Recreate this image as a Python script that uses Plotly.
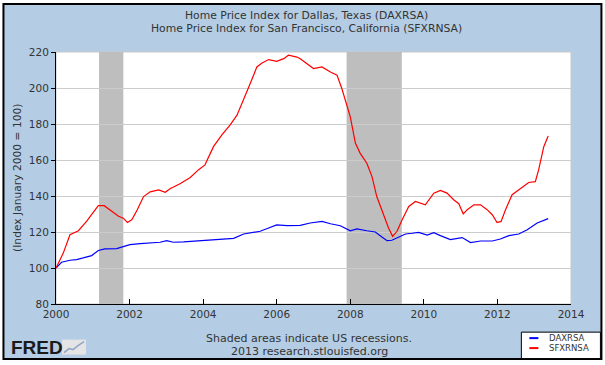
import plotly.graph_objects as go

# ---------------- data ----------------
sf_years = [2000.00, 2000.20, 2000.38, 2000.61, 2000.83, 2001.02, 2001.15, 2001.31, 2001.56, 2001.70,
            2001.83, 2001.94, 2002.06, 2002.21, 2002.38, 2002.56, 2002.79, 2002.97, 2003.10, 2003.37,
            2003.65, 2003.87, 2004.05, 2004.28, 2004.51, 2004.73, 2004.92, 2005.10, 2005.28, 2005.46,
            2005.60, 2005.78, 2006.00, 2006.19, 2006.32, 2006.55, 2006.64, 2007.00, 2007.23, 2007.46,
            2007.64, 2007.77, 2007.89, 2008.00, 2008.14, 2008.27, 2008.45, 2008.59, 2008.72, 2008.91,
            2009.04, 2009.15, 2009.27, 2009.41, 2009.59, 2009.77, 2010.04, 2010.27, 2010.45, 2010.63,
            2010.81, 2010.95, 2011.07, 2011.18, 2011.36, 2011.54, 2011.72, 2011.86, 2011.99, 2012.10,
            2012.22, 2012.40, 2012.58, 2012.72, 2012.85, 2013.03, 2013.12, 2013.26, 2013.38]
sf_values = [100.0, 108.4, 118.5, 120.7, 125.9, 131.4, 134.6, 134.6, 130.9, 128.7,
             127.7, 125.3, 126.8, 132.4, 139.7, 142.3, 143.4, 142.1, 144.0, 146.8,
             150.3, 154.5, 157.3, 167.4, 173.9, 179.4, 184.9, 193.2, 202.5, 211.7,
             213.9, 215.8, 214.8, 216.3, 218.2, 217.2, 216.3, 210.8, 211.7, 208.9,
             207.1, 199.7, 191.4, 184.0, 169.3, 163.7, 158.2, 150.8, 139.7, 129.6,
             122.2, 117.6, 120.4, 126.8, 134.2, 137.0, 135.1, 141.6, 143.1, 141.6,
             137.9, 135.7, 130.1, 132.4, 135.1, 135.1, 132.4, 129.6, 125.3, 125.9,
             132.4, 140.7, 143.4, 145.3, 147.5, 148.0, 154.5, 167.4, 173.3]

dal_years = [2000.00, 2000.15, 2000.38, 2000.56, 2000.74, 2000.97, 2001.15, 2001.33, 2001.65, 2001.83,
             2002.01, 2002.29, 2002.56, 2002.83, 2003.01, 2003.19, 2003.47, 2003.83, 2004.10, 2004.46,
             2004.83, 2005.10, 2005.37, 2005.55, 2005.78, 2006.00, 2006.28, 2006.64, 2006.91, 2007.23,
             2007.46, 2007.73, 2008.00, 2008.18, 2008.45, 2008.68, 2008.86, 2009.00, 2009.13, 2009.31,
             2009.50, 2009.68, 2009.86, 2010.09, 2010.27, 2010.45, 2010.72, 2011.04, 2011.27, 2011.54,
             2011.86, 2012.08, 2012.31, 2012.58, 2012.81, 2013.08, 2013.38]
dal_values = [100.0, 103.2, 104.3, 104.7, 105.6, 106.9, 109.7, 110.6, 110.8, 111.7,
              113.0, 113.5, 113.9, 114.3, 115.2, 114.3, 114.5, 115.0, 115.2, 116.1,
              116.5, 118.9, 119.8, 120.4, 122.2, 123.9, 123.5, 123.7, 125.0, 125.9,
              124.6, 123.5, 120.7, 121.7, 120.7, 120.0, 117.2, 115.2, 115.4, 117.2,
              118.9, 119.3, 119.8, 118.3, 119.6, 118.0, 115.8, 116.9, 114.1, 115.0,
              115.0, 116.1, 118.0, 118.9, 121.3, 125.0, 127.4]

recession_starts = [2001.17, 2007.90]
recession_ends = [2001.83, 2009.40]

x_ticks = [2000, 2002, 2004, 2006, 2008, 2010, 2012, 2014]
y_ticks = [80, 100, 120, 140, 160, 180, 200, 220]

series_names = ["DAXRSA", "SFXRNSA"]
series_colors = ["#0000FF", "#FF0000"]

title_lines = ["Home Price Index for Dallas, Texas (DAXRSA)",
               "Home Price Index for San Francisco, California (SFXRNSA)"]
footer_lines = ["Shaded areas indicate US recessions.", "2013 research.stlouisfed.org"]

# ---------------- layout geometry (pixels) ----------------
W, H = 605, 365
L, R, T, B = 56, 570.6, 51.7, 304.3


def px(x):
    return (x - L) / (R - L)


def py(y):
    return (B - y) / (B - T)


FONT = "DejaVu Sans"
BG = "#B4CDE4"
TXT = "#333333"

fig = go.Figure()
fig.add_trace(go.Scatter(x=dal_years, y=dal_values, mode="lines", name=series_names[0],
                         line=dict(color=series_colors[0], width=1.2), showlegend=False))
fig.add_trace(go.Scatter(x=sf_years, y=sf_values, mode="lines", name=series_names[1],
                         line=dict(color=series_colors[1], width=1.2), showlegend=False))

shapes = []
# outer background with black frame
shapes.append(dict(type="rect", xref="paper", yref="paper", x0=px(3.5), x1=px(601), y0=py(3.5), y1=py(359.5),
                   fillcolor=BG, line=dict(color="black", width=2), layer="below"))
# white plot area
shapes.append(dict(type="rect", xref="paper", yref="paper", x0=0, x1=1, y0=0, y1=1,
                   fillcolor="white", line=dict(color="#C8C8C8", width=1), layer="below"))
# recessions
for s, e in zip(recession_starts, recession_ends):
    shapes.append(dict(type="rect", xref="x", yref="paper", x0=s, x1=e, y0=0, y1=1,
                       fillcolor="#BEBEBE", line=dict(width=0), layer="between"))
# legend box
shapes.append(dict(type="rect", xref="paper", yref="paper", x0=px(521), x1=px(600), y0=py(332.5), y1=py(359),
                   fillcolor="white", line=dict(color="black", width=1), layer="above"))
leg_y = [338.5, 348.5]
for c, yy in zip(series_colors, leg_y):
    shapes.append(dict(type="line", xref="paper", yref="paper", x0=px(529), x1=px(538), y0=py(yy), y1=py(yy),
                       line=dict(color=c, width=2), layer="above"))
# FRED icon
shapes.append(dict(type="rect", xref="paper", yref="paper", x0=px(62), x1=px(86), y0=py(340), y1=py(355),
                   fillcolor="#E4E4E4", line=dict(width=0), layer="above"))
icon_pts = [(64, 353), (69, 349), (73, 350), (78, 346), (84, 342)]
path = "M " + " L ".join(f"{px(a):.5f},{py(b):.5f}" for a, b in icon_pts)
shapes.append(dict(type="path", xref="paper", yref="paper", path=path,
                   line=dict(color="#8FA6C4", width=1.5), layer="above"))

annotations = []
for i, t in enumerate(title_lines):
    annotations.append(dict(text=t, xref="paper", yref="paper", x=px(306), y=py(15 + 13 * i),
                            showarrow=False, xanchor="center", yanchor="middle",
                            font=dict(family=FONT, size=10.8, color=TXT)))
for i, t in enumerate(footer_lines):
    annotations.append(dict(text=t, xref="paper", yref="paper", x=px(309), y=py(338.5 + 13.5 * i),
                            showarrow=False, xanchor="center", yanchor="middle",
                            font=dict(family=FONT, size=11, color=TXT)))
for n, yy in zip(series_names, leg_y):
    annotations.append(dict(text=n, xref="paper", yref="paper", x=px(547), y=py(yy),
                            showarrow=False, xanchor="left", yanchor="middle",
                            font=dict(family=FONT, size=8.5, color=TXT)))
annotations.append(dict(text="<b>FRED</b>", xref="paper", yref="paper", x=px(9), y=py(347.5),
                        showarrow=False, xanchor="left", yanchor="middle",
                        font=dict(family="Liberation Sans", size=19, color="#1A1A1A")))
annotations.append(dict(text="(Index January 2000 = 100)", xref="paper", yref="paper", x=px(17), y=py(178),
                        showarrow=False, xanchor="center", yanchor="middle", textangle=-90,
                        font=dict(family=FONT, size=10.7, color=TXT)))

fig.update_layout(
    width=W, height=H, autosize=False,
    margin=dict(l=L, r=W - R, t=T, b=H - B, pad=0),
    paper_bgcolor="white", plot_bgcolor="white",
    shapes=shapes, annotations=annotations,
    showlegend=False,
)
fig.update_xaxes(range=[2000, 2014], tickvals=x_ticks, ticktext=[str(v) for v in x_ticks],
                 showgrid=False, zeroline=False, showline=True, linecolor="black", linewidth=1,
                 ticks="inside", ticklen=5, tickcolor="black",
                 tickfont=dict(family=FONT, size=10.5, color=TXT))
fig.update_yaxes(range=[80, 220], tickvals=y_ticks, ticktext=[str(v) for v in y_ticks],
                 showgrid=True, gridcolor="#CCCCCC", gridwidth=1, zeroline=False,
                 showline=True, linecolor="black", linewidth=1,
                 ticks="outside", ticklen=4, tickcolor="black",
                 tickfont=dict(family=FONT, size=10.5, color=TXT))

fig.write_html("out.html", config={"displayModeBar": False},
               post_script="document.body.style.margin='0';document.body.style.overflow='hidden';")
